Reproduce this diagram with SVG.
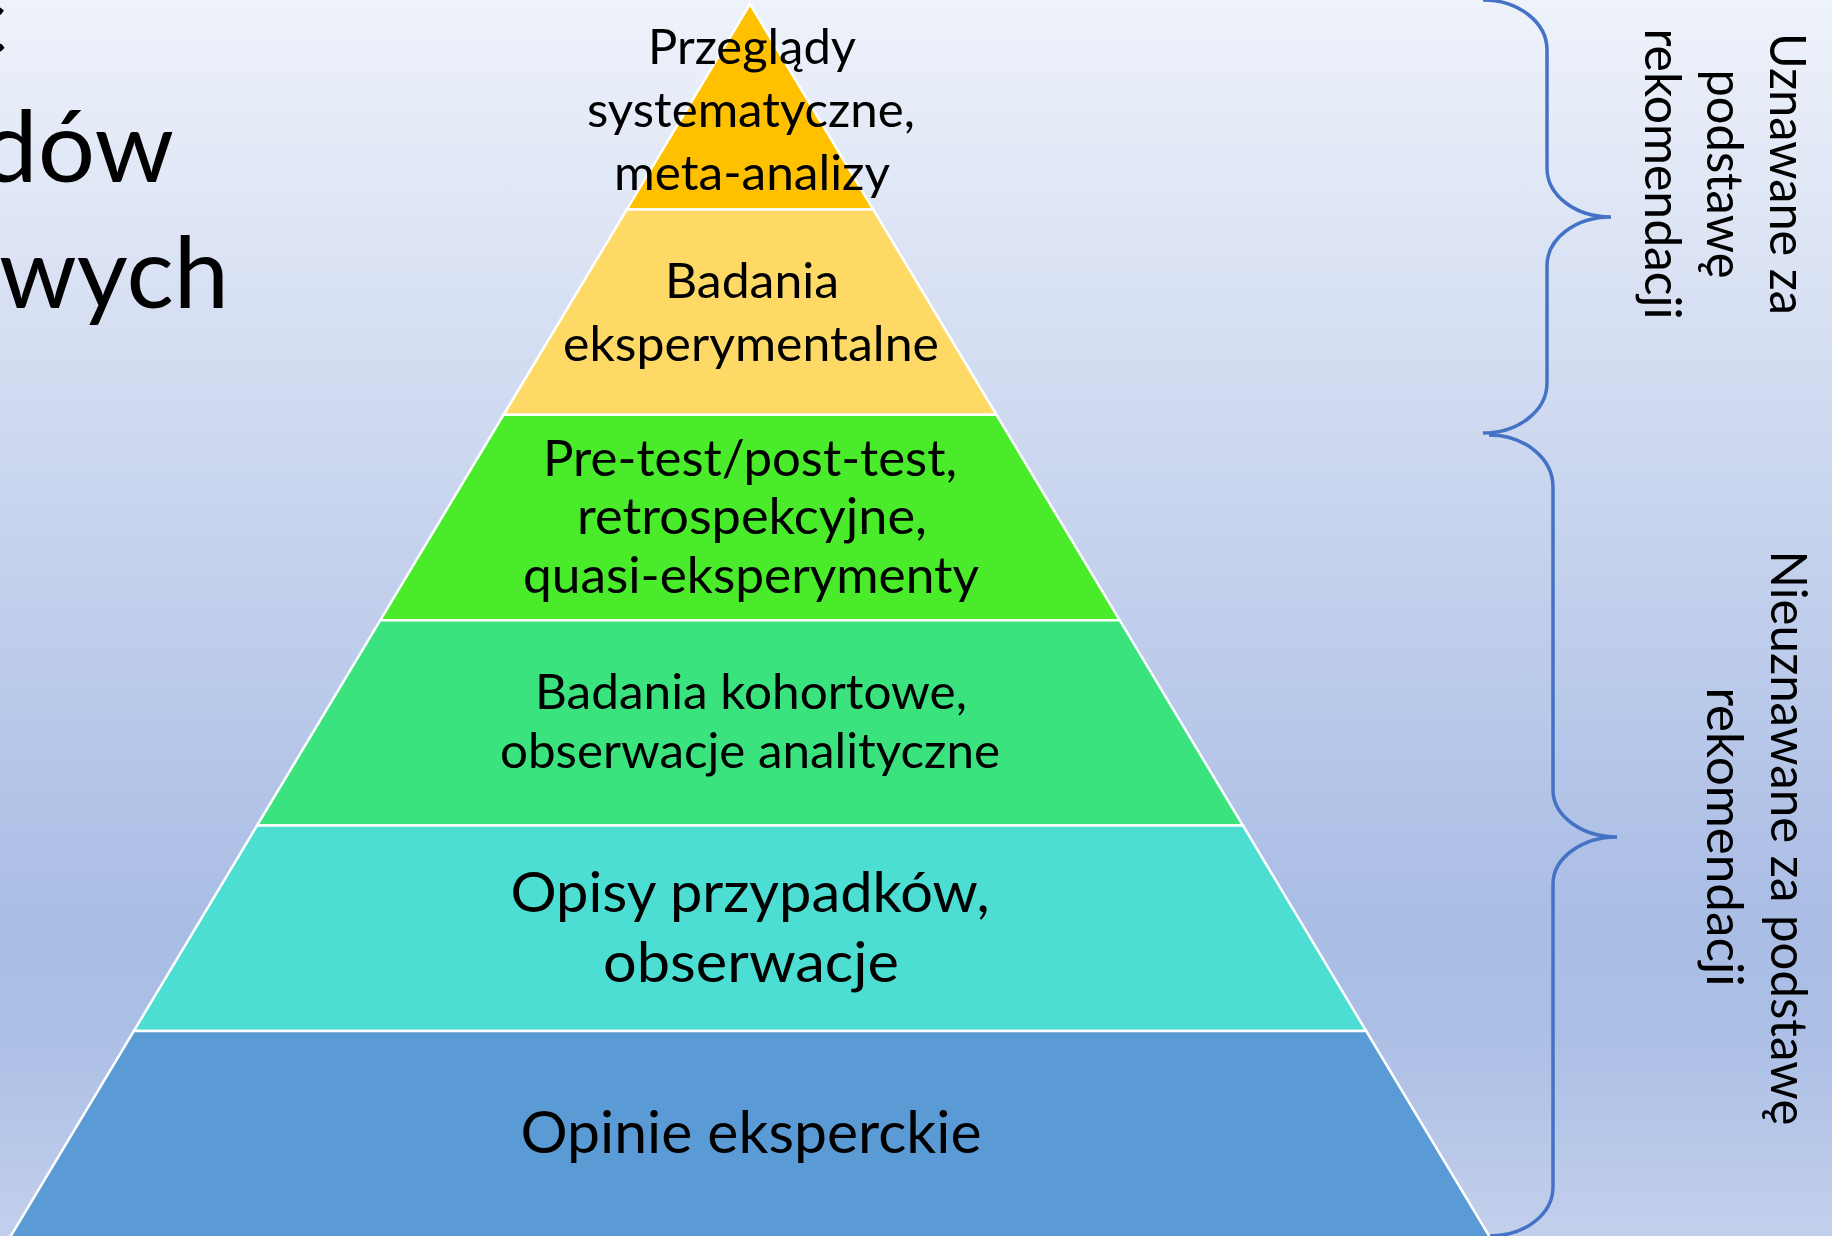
<svg xmlns="http://www.w3.org/2000/svg" width="1832" height="1236" viewBox="0 0 1832 1236">
  <defs>
    <linearGradient id="bg" x1="0" y1="0" x2="0" y2="1">
      <stop offset="0" stop-color="#EEF2FA"/>
      <stop offset="0.74" stop-color="#AABDE5"/>
      <stop offset="0.83" stop-color="#ABBEE5"/>
      <stop offset="1" stop-color="#C3D0EC"/>
    </linearGradient>
    <style>
      .tier { stroke: #FFFFFF; stroke-width: 2.5; stroke-linejoin: miter; }
      .lbl { font-family: Lato, "Open Sans", "Liberation Sans", sans-serif; fill: #000000; text-anchor: middle; }
      .t1 { font-size: 48px; }
      .t2 { font-size: 49px; }
      .t3 { font-size: 50px; }
      .t4 { font-size: 48px; }
      .t5 { font-size: 57px; }
      .t6 { font-size: 58px; }
      .title { font-family: Lato, "Open Sans", "Liberation Sans", sans-serif; font-size: 99px; fill: #000000; }
      .side { font-family: Lato, "Open Sans", "Liberation Sans", sans-serif; font-size: 51px; fill: #000000; text-anchor: middle; }
      .brace { fill: none; stroke: #4472C4; stroke-width: 3.5; }
    </style>
  </defs>

  <!-- slide background -->
  <rect x="0" y="0" width="1832" height="1236" fill="url(#bg)"/>

  <!-- title, running off the left edge -->
  <g id="title">
    <text class="title" x="7" y="55" text-anchor="end">c</text>
    <text class="title" x="-19" y="182" textLength="193" lengthAdjust="spacingAndGlyphs">dów</text>
    <text class="title" x="-1" y="308" textLength="230" lengthAdjust="spacingAndGlyphs">wych</text>
  </g>

  <!-- pyramid tiers, top to bottom -->
  <g id="tier-1">
    <polygon class="tier" fill="#FFC000" points="750,4 873.2,209.4 626.8,209.4"/>
    <text class="lbl t1" x="752" y="64" textLength="208" lengthAdjust="spacingAndGlyphs">Przeglądy</text>
    <text class="lbl t1" x="751" y="127" textLength="328" lengthAdjust="spacingAndGlyphs">systematyczne,</text>
    <text class="lbl t1" x="752" y="190" textLength="276" lengthAdjust="spacingAndGlyphs">meta-analizy</text>
  </g>
  <g id="tier-2">
    <polygon class="tier" fill="#FFD966" points="626.8,209.4 873.2,209.4 996.5,414.8 503.5,414.8"/>
    <text class="lbl t2" x="752" y="298" textLength="174" lengthAdjust="spacingAndGlyphs">Badania</text>
    <text class="lbl t2" x="751" y="361" textLength="376" lengthAdjust="spacingAndGlyphs">eksperymentalne</text>
  </g>
  <g id="tier-3">
    <polygon class="tier" fill="#49EB2B" points="503.5,414.8 996.5,414.8 1119.7,620.2 380.3,620.2"/>
    <text class="lbl t3" x="750" y="476" textLength="414" lengthAdjust="spacingAndGlyphs">Pre-test/post-test,</text>
    <text class="lbl t3" x="752" y="534" textLength="350" lengthAdjust="spacingAndGlyphs">retrospekcyjne,</text>
    <text class="lbl t3" x="751" y="593" textLength="456" lengthAdjust="spacingAndGlyphs">quasi-eksperymenty</text>
  </g>
  <g id="tier-4">
    <polygon class="tier" fill="#3BE37E" points="380.3,620.2 1119.7,620.2 1243,825.6 257,825.6"/>
    <text class="lbl t4" x="751" y="709" textLength="432" lengthAdjust="spacingAndGlyphs">Badania kohortowe,</text>
    <text class="lbl t4" x="750" y="768" textLength="500" lengthAdjust="spacingAndGlyphs">obserwacje analityczne</text>
  </g>
  <g id="tier-5">
    <polygon class="tier" fill="#4CDDD3" points="257,825.6 1243,825.6 1366.2,1031 133.8,1031"/>
    <text class="lbl t5" x="750" y="912" textLength="479" lengthAdjust="spacingAndGlyphs">Opisy przypadków,</text>
    <text class="lbl t5" x="751" y="982" textLength="296" lengthAdjust="spacingAndGlyphs">obserwacje</text>
  </g>
  <g id="tier-6">
    <polygon class="tier" fill="#5B9BD5" points="133.8,1031 1366.2,1031 1491.6,1240 8.4,1240"/>
    <text class="lbl t6" x="751" y="1153" textLength="461" lengthAdjust="spacingAndGlyphs">Opinie eksperckie</text>
  </g>

  <!-- curly braces grouping the tiers -->
  <g id="braces">
    <path class="brace" d="M1483,0 C1518,0 1547,22 1547,50 L1547,168 C1547,196 1576,217 1611,217 C1576,217 1547,238 1547,266 L1547,383 C1547,411 1518,433 1483,433"/>
    <path class="brace" d="M1489,435 C1524,435 1553,458 1553,487 L1553,790 C1553,816 1582,837 1617,837 C1582,837 1553,858 1553,884 L1553,1187 C1553,1214 1525,1236 1490,1236"/>
  </g>

  <!-- vertical side labels -->
  <g id="label-upper">
    <text class="side" transform="translate(1770,174) rotate(90)" textLength="282" lengthAdjust="spacingAndGlyphs">Uznawane za</text>
    <text class="side" transform="translate(1707,174) rotate(90)" textLength="209" lengthAdjust="spacingAndGlyphs">podstawę</text>
    <text class="side" transform="translate(1645,174) rotate(90)" textLength="291" lengthAdjust="spacingAndGlyphs">rekomendacji</text>
  </g>
  <g id="label-lower">
    <text class="side" transform="translate(1771,838) rotate(90)" textLength="575" lengthAdjust="spacingAndGlyphs">Nieuznawane za podstawę</text>
    <text class="side" transform="translate(1707,837) rotate(90)" textLength="299" lengthAdjust="spacingAndGlyphs">rekomendacji</text>
  </g>
</svg>
